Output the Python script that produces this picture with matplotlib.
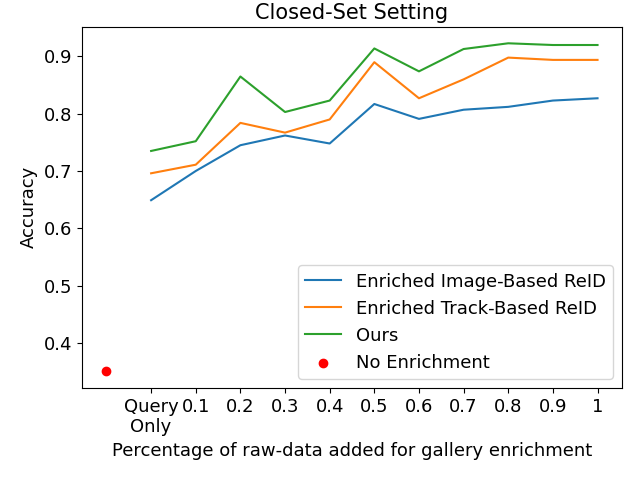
import numpy as np
import matplotlib
matplotlib.use("Agg")
import matplotlib.pyplot as plt

# Data
tick_labels = ["Query\nOnly", "0.1", "0.2", "0.3", "0.4", "0.5",
               "0.6", "0.7", "0.8", "0.9", "1"]
image_reid = [0.649, 0.700, 0.745, 0.762, 0.748, 0.817, 0.791, 0.807, 0.812, 0.823, 0.827]
track_reid = [0.696, 0.711, 0.784, 0.767, 0.790, 0.890, 0.827, 0.860, 0.898, 0.894, 0.894]
ours       = [0.735, 0.752, 0.865, 0.803, 0.823, 0.914, 0.874, 0.913, 0.923, 0.920, 0.920]
no_enrich  = 0.35

x = np.arange(1, len(tick_labels) + 1)

fig, ax = plt.subplots(figsize=(6.4, 4.8), dpi=100)
ax.plot(x, image_reid, label="Enriched Image-Based ReID")
ax.plot(x, track_reid, label="Enriched Track-Based ReID")
ax.plot(x, ours, label="Ours")
ax.scatter([0], [no_enrich], color="red", label="No Enrichment")

ax.set_xticks(x)
ax.set_xticklabels(tick_labels)
ax.tick_params(labelsize=13)
ax.set_xlabel("Percentage of raw-data added for gallery enrichment", fontsize=13)
ax.set_ylabel("Accuracy", fontsize=13)
ax.set_title("Closed-Set Setting", fontsize=15)
ax.legend(loc="lower right", fontsize=13)

fig.subplots_adjust(left=0.128, right=0.972, top=0.944, bottom=0.192)
fig.savefig("out.png", dpi=100)
